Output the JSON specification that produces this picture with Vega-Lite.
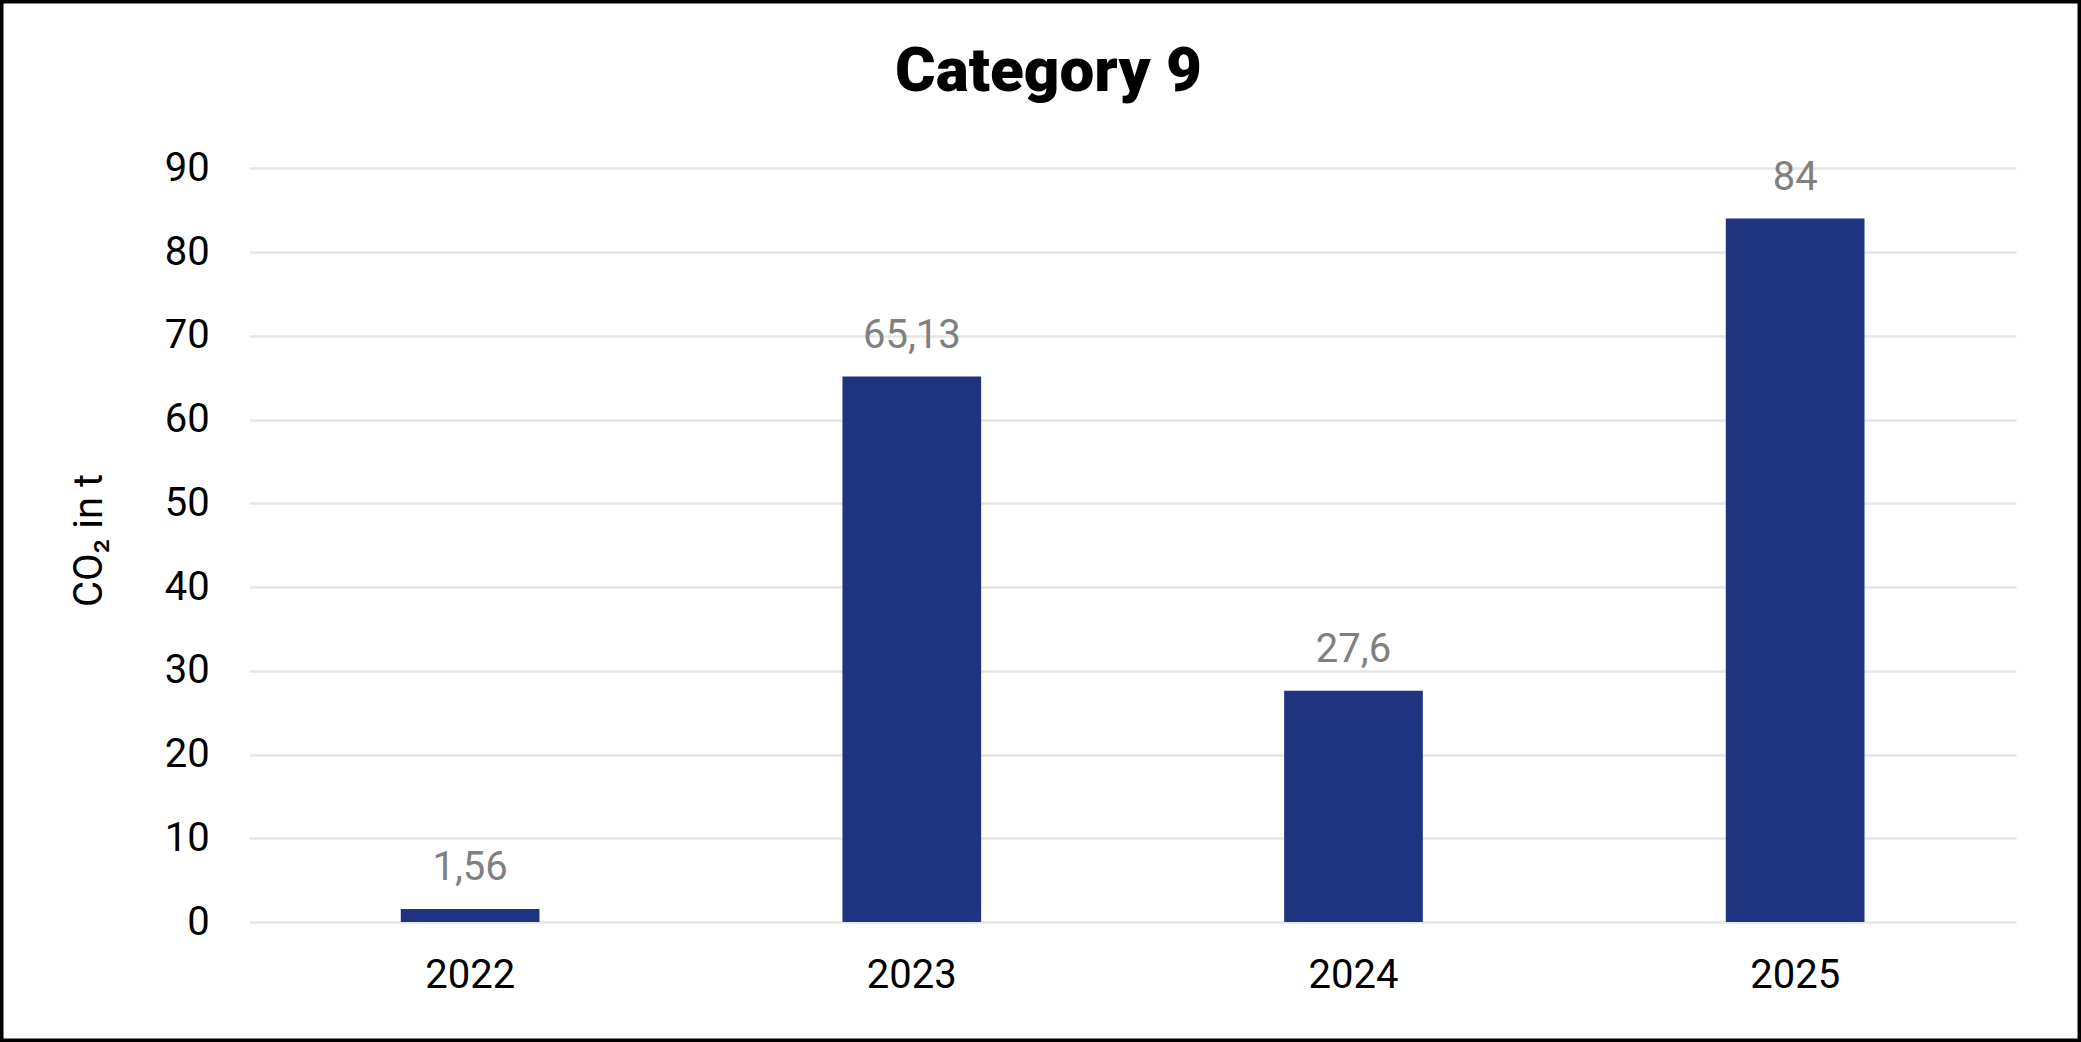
{
  "$schema": "https://vega.github.io/schema/vega-lite/v6.json",
  "width": 2081,
  "height": 1042,
  "autosize": {"type": "none"},
  "padding": 0,
  "background": "white",
  "config": {
    "view": {"stroke": "black", "strokeWidth": 7, "fill": "white"},
    "font": "Roboto",
    "locale": {"number": {"decimal": ",", "thousands": ".", "grouping": [3], "currency": ["", " €"]}}
  },
  "title": {
    "text": "Category 9",
    "font": "Roboto",
    "fontSize": 62,
    "fontWeight": 900,
    "color": "black",
    "anchor": "middle",
    "frame": "group",
    "baseline": "alphabetic",
    "offset": 0,
    "dy": 153,
    "dx": 8
  },
  "data": {
    "values": [
      {"year": "2022", "co2": 1.56},
      {"year": "2023", "co2": 65.13},
      {"year": "2024", "co2": 27.6},
      {"year": "2025", "co2": 84}
    ]
  },
  "encoding": {
    "x": {
      "field": "year",
      "type": "nominal",
      "sort": null,
      "scale": {"range": [249.3, 2016], "paddingInner": 0.686, "paddingOuter": 0.343},
      "axis": {
        "title": null,
        "orient": "bottom",
        "offset": -120,
        "domain": false,
        "ticks": false,
        "tickSize": 0,
        "grid": false,
        "labelAngle": 0,
        "labelFont": "Roboto",
        "labelFontSize": 40,
        "labelColor": "black",
        "labelBaseline": "alphabetic",
        "labelPadding": 65
      }
    },
    "y": {
      "field": "co2",
      "type": "quantitative",
      "scale": {"domain": [0, 90], "range": [922, 168.3], "nice": false, "zero": false},
      "axis": {
        "title": "CO₂ in t",
        "orient": "left",
        "offset": -2016,
        "values": [0, 10, 20, 30, 40, 50, 60, 70, 80, 90],
        "domain": false,
        "grid": false,
        "ticks": true,
        "tickSize": 1766.7,
        "tickColor": "#e6e6e6",
        "tickWidth": 2.6,
        "labelFont": "Roboto",
        "labelFontSize": 40,
        "labelColor": "black",
        "labelPadding": 40,
        "titleFont": "Roboto",
        "titleFontSize": 40,
        "titleFontWeight": "normal",
        "titleColor": "black",
        "titleAngle": -90,
        "titleAlign": "center",
        "titleBaseline": "alphabetic",
        "titleX": -1914.3,
        "titleY": 540
      }
    }
  },
  "layer": [
    {"mark": {"type": "bar", "color": "#1F3480"}},
    {
      "mark": {"type": "text", "font": "Roboto", "fontSize": 40, "color": "#808080", "baseline": "alphabetic", "align": "center", "dy": -29},
      "encoding": {"text": {"field": "co2", "type": "quantitative", "format": "~g"}}
    }
  ]
}
